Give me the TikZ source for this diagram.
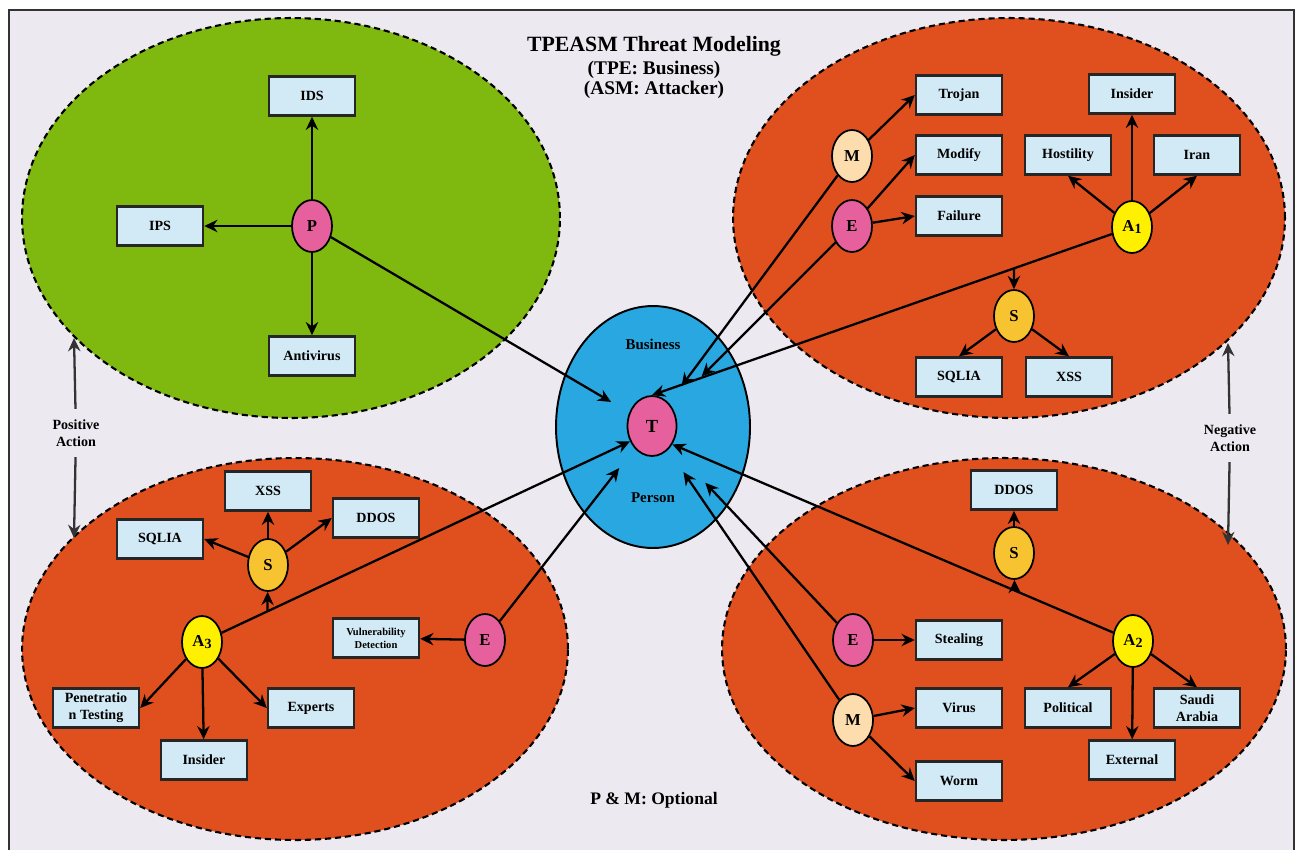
\documentclass[tikz,border=0pt]{standalone}
\usepackage{fontspec}
\setmainfont{Liberation Serif}
\usepackage{xcolor}
\usetikzlibrary{shapes.geometric, arrows.meta, calc}

\definecolor{panelbg}{HTML}{ECEAF0}
\definecolor{zonegreen}{HTML}{7FB80F}
\definecolor{zoneorange}{HTML}{E0501F}
\definecolor{corebl}{HTML}{29A7E1}
\definecolor{boxbl}{HTML}{D2EAF5}
\definecolor{pinkn}{HTML}{E5609D}
\definecolor{peachn}{HTML}{FDDDAD}
\definecolor{yellown}{HTML}{FFF000}
\definecolor{goldn}{HTML}{F8C331}

\newcommand{\subidx}[1]{\raisebox{-0.3ex}{\fontsize{8}{9}\selectfont #1}}

\begin{document}
\begin{tikzpicture}[x=0.02cm, y=-0.02cm, font=\bfseries\fontsize{8}{9.5}\selectfont,
    tbox/.style={draw=black!85, line width=1.4pt, fill=boxbl, minimum width=1.72cm, minimum height=0.78cm, inner sep=1pt, align=center},
    cnode/.style={ellipse, draw=black, line width=1pt, minimum width=0.8cm, minimum height=1.04cm, inner sep=0pt, font=\bfseries\fontsize{9.5}{10}\selectfont},
    arr/.style={-{Stealth[length=7.5pt, width=7pt]}, line width=1.3pt},
    zone/.style={draw=black, line width=1.2pt, dash pattern=on 3.5pt off 2.2pt}]
    \useasboundingbox (0,0) rectangle (1298,849);
    \clip (0,0) rectangle (1298,849);
    \draw[line width=1.4pt, black!80, fill=panelbg] (9,10) rectangle (1294,880);

    \draw[zone, fill=zonegreen] (291,218) ellipse [x radius=5.38cm, y radius=4cm];
    \draw[zone, fill=zoneorange] (1009,218) ellipse [x radius=5.52cm, y radius=4cm];
    \draw[zone, fill=zoneorange] (295,649) ellipse [x radius=5.46cm, y radius=3.82cm];
    \draw[zone, fill=zoneorange] (1004,649) ellipse [x radius=5.64cm, y radius=3.82cm];
    \draw[line width=1.1pt, fill=corebl] (653,427) ellipse [x radius=1.94cm, y radius=2.42cm];

    \node[font=\bfseries\fontsize{12.4}{14}\selectfont] (title) at (654,46) {TPEASM Threat Modeling};
    \node[font=\bfseries\fontsize{11}{13}\selectfont] (sub1) at (654,70) {(TPE: Business)};
    \node[font=\bfseries\fontsize{11}{13}\selectfont] (sub2) at (654,90) {(ASM: Attacker)};
    \node[font=\bfseries\fontsize{8.5}{10}\selectfont] (business) at (653,344) {Business};
    \node[font=\bfseries\fontsize{8.5}{10}\selectfont] (person) at (653,498) {Person};
    \node[font=\bfseries\fontsize{10}{12}\selectfont] (optional) at (654,800) {P \& M: Optional};

    \node[cnode, fill=pinkn, minimum width=0.98cm, minimum height=1.2cm, font=\bfseries\fontsize{10.5}{11}\selectfont] (T) at (652,426) {T};

    % positive side
    \node[cnode, fill=pinkn] (P) at (312,226) {P};
    \node[tbox] (ids) at (312,96) {IDS};
    \node[tbox] (ips) at (160,226) {IPS};
    \node[tbox] (antivirus) at (312,356) {Antivirus};
    \draw[arr] (P) -- (ids);
    \draw[arr] (P) -- (ips);
    \draw[arr] (P) -- (antivirus);
    \draw[arr, shorten >=0.42cm] (P) -- (T);

    % negative side, top
    \node[cnode, fill=peachn] (m1) at (852,156) {M};
    \node[cnode, fill=pinkn] (e1) at (852,226) {E};
    \node[cnode, fill=yellown] (a1) at (1132,227) {A\subidx{1}};
    \node[cnode, fill=goldn] (s1) at (1014,316) {S};
    \node[tbox] (trojan) at (959,95) {Trojan};
    \node[tbox] (modify) at (959,155) {Modify};
    \node[tbox] (failure) at (959,216) {Failure};
    \node[tbox] (insider1) at (1132,94) {Insider};
    \node[tbox] (hostility) at (1068,155) {Hostility};
    \node[tbox] (iran) at (1197,155) {Iran};
    \node[tbox] (sqlia1) at (959,377) {SQLIA};
    \node[tbox] (xss1) at (1069,377) {XSS};
    \draw[arr] (m1) -- (trojan.west);
    \draw[arr] (e1) -- (modify.west);
    \draw[arr] (e1) -- (failure.west);
    \draw[arr] (a1) -- (insider1);
    \draw[arr] (a1) -- (hostility.south);
    \draw[arr] (a1) -- (iran.south);
    \draw[arr] (s1) -- (sqlia1.north);
    \draw[arr] (s1) -- (xss1.north);
    \draw[arr, shorten >=0.42cm] (m1) -- (T);
    \draw[arr, shorten >=0.85cm] (e1) -- (T);
    \draw[arr] (a1) -- (T.north);
    \path (a1.center) -- (T.north) coordinate[pos=0.246] (b1);
    \draw[arr] (b1) -- (s1);

    % positive side, bottom
    \node[cnode, fill=goldn] (s3) at (268,565) {S};
    \node[cnode, fill=yellown] (a3) at (202,642) {A\subidx{3}};
    \node[cnode, fill=pinkn] (e3) at (485,640) {E};
    \node[tbox] (xss3) at (268,491) {XSS};
    \node[tbox] (sqlia3) at (160,539) {SQLIA};
    \node[tbox] (ddos3) at (376,518) {DDOS};
    \node[tbox, font=\bfseries\fontsize{6}{7.5}\selectfont] (vuln) at (376,638) {Vulnerability\\Detection};
    \node[tbox] (pentest) at (96,708) {Penetratio\\n Testing};
    \node[tbox] (insider3) at (204,760) {Insider};
    \node[tbox] (experts) at (311,708) {Experts};
    \draw[arr] (s3) -- (xss3);
    \draw[arr] (s3) -- (sqlia3.east);
    \draw[arr] (s3) -- (ddos3.west);
    \draw[arr] (a3) -- (pentest.east);
    \draw[arr] (a3) -- (insider3);
    \draw[arr] (a3) -- (experts.west);
    \draw[arr] (e3) -- (vuln);
    \draw[arr] (a3) -- (T.215);
    \path (a3.center) -- (T.215) coordinate[pos=0.153] (b3);
    \draw[arr] (b3) -- (s3);
    \draw[arr, shorten >=0.5cm] (e3) -- (T);

    % negative side, bottom
    \node[cnode, fill=goldn] (s2) at (1014,553) {S};
    \node[cnode, fill=yellown] (a2) at (1133,641) {A\subidx{2}};
    \node[cnode, fill=pinkn] (e2) at (853,640) {E};
    \node[cnode, fill=peachn] (m2) at (853,720) {M};
    \node[tbox] (ddos2) at (1014,490) {DDOS};
    \node[tbox] (stealing) at (959,640) {Stealing};
    \node[tbox] (virus) at (959,708) {Virus};
    \node[tbox] (worm) at (959,781) {Worm};
    \node[tbox] (political) at (1068,708) {Political};
    \node[tbox] (saudi) at (1197,708) {Saudi\\Arabia};
    \node[tbox] (external) at (1132,760) {External};
    \draw[arr] (s2) -- (ddos2);
    \draw[arr] (e2) -- (stealing.west);
    \draw[arr] (m2) -- (virus.west);
    \draw[arr] (m2) -- (worm.west);
    \draw[arr] (a2) -- (political.north);
    \draw[arr] (a2) -- (external);
    \draw[arr] (a2) -- (saudi.north);
    \draw[arr] (a2) -- (T.318);
    \path (a2.center) -- (T.318) coordinate[pos=0.257] (b2);
    \draw[arr] (b2) -- (s2);
    \draw[arr, shorten >=1cm] (e2) -- (T);
    \draw[arr, shorten >=0.54cm] (m2) -- (T);

    % actions
    \node[align=center, inner sep=6pt] (posact) at (76,433) {Positive\\Action};
    \coordinate (pos1) at (74,338);
    \coordinate (pos2) at (74,538);
    \draw[arr, black!80] (posact) -- (pos1);
    \draw[arr, black!80] (posact) -- (pos2);
    \node[align=center, inner sep=6pt] (negact) at (1230,438) {Negative\\Action};
    \coordinate (neg1) at (1228,343);
    \coordinate (neg2) at (1228,545);
    \draw[arr, black!80] (negact) -- (neg1);
    \draw[arr, black!80] (negact) -- (neg2);
\end{tikzpicture}
\end{document}
